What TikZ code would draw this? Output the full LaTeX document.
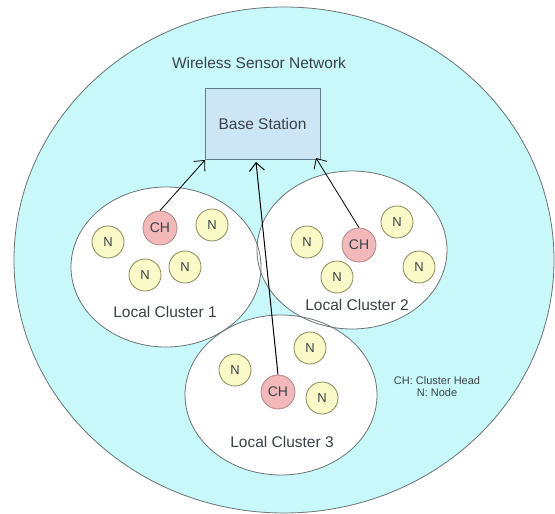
\documentclass[tikz,border=0pt]{standalone}
\usepackage{fontspec}
\setmainfont{Liberation Sans}
\usetikzlibrary{arrows.meta}
\definecolor{wsn}{HTML}{C8F8FA}
\definecolor{wsnline}{HTML}{6A7474}
\definecolor{bsfill}{HTML}{CDE6F6}
\definecolor{bsline}{HTML}{5F7D8C}
\definecolor{nfill}{HTML}{FAFAC8}
\definecolor{nline}{HTML}{8A8A5A}
\definecolor{chfill}{HTML}{F2B8BA}
\definecolor{chline}{HTML}{B08888}
\definecolor{txt}{HTML}{3A4248}
\tikzset{
  clfill/.style={fill=white},
  clline/.style={draw=wsnline, line width=0.8pt},
  nnode/.style={circle, draw=nline, fill=nfill, line width=0.8pt, minimum size=32pt, inner sep=0pt, font=\fontsize{13}{14}\selectfont, text=txt},
  chnode/.style={circle, draw=chline, fill=chfill, line width=0.8pt, minimum size=34pt, inner sep=0pt, font=\fontsize{14}{15}\selectfont, text=txt},
  lbl/.style={font=\fontsize{15.5}{17}\selectfont, text=txt, inner sep=0pt},
  link/.style={draw=black, line width=0.8pt, -{Straight Barb[length=8pt,width=15pt]}}
}
\begin{document}
\begin{tikzpicture}[x=1pt,y=-1pt]
\useasboundingbox (0,0) rectangle (555,514);
\begin{scope}
\clip (0,0) rectangle (555,514);
\fill[white] (0,0) rectangle (555,514);
\draw[fill=wsn, draw=wsnline, line width=0.8pt] (284,260) ellipse [x radius=270, y radius=253];
\end{scope}
% cluster fills
\fill[clfill] (166,267) ellipse [x radius=95, y radius=80];
\fill[clfill] (352,250) ellipse [x radius=95, y radius=79];
\fill[clfill] (281,395) ellipse [x radius=96, y radius=80];
% cluster borders
\draw[clline] (166,267) ellipse [x radius=95, y radius=80];
\draw[clline] (352,250) ellipse [x radius=95, y radius=79];
\draw[clline] (281,395) ellipse [x radius=96, y radius=80];

\node[lbl] (title) at (259,63) {Wireless Sensor Network};
\node[draw=bsline, fill=bsfill, line width=0.8pt, minimum width=115pt, minimum height=71pt, inner sep=0pt, font=\fontsize{15.5}{17}\selectfont, text=txt] (bs) at (262.5,124) {Base Station};

% cluster 1
\node[nnode] (n11) at (108,242) {N};
\node[chnode] (ch1) at (160,228) {CH};
\node[nnode] (n12) at (212,225) {N};
\node[nnode] (n13) at (145,275) {N};
\node[nnode] (n14) at (185,267) {N};
\node[lbl] (lc1) at (165,312) {Local Cluster 1};

% cluster 2
\node[nnode] (n21) at (307,242) {N};
\node[chnode] (ch2) at (359,245) {CH};
\node[nnode] (n22) at (397,222) {N};
\node[nnode] (n23) at (337,277) {N};
\node[nnode] (n24) at (419,267) {N};
\node[lbl] (lc2) at (357,305) {Local Cluster 2};

% cluster 3
\node[nnode] (n31) at (235,370) {N};
\node[nnode] (n32) at (310,348) {N};
\node[chnode] (ch3) at (278,392) {CH};
\node[nnode] (n33) at (322,398) {N};
\node[lbl] (lc3) at (282,442) {Local Cluster 3};

% legend
\node[font=\fontsize{11}{12}\selectfont, text=txt, align=center, inner sep=0pt] (leg) at (437,387) {CH: Cluster Head\\N: Node};

% links
\coordinate (t1) at (205,160);
\coordinate (t2) at (256,162);
\coordinate (t3) at (316,158);
\draw[link] (ch1.north) -- (t1);
\draw[link, line width=1pt] (ch3.north) -- (t2);
\draw[link] (ch2.north) -- (t3);
\end{tikzpicture}
\end{document}
